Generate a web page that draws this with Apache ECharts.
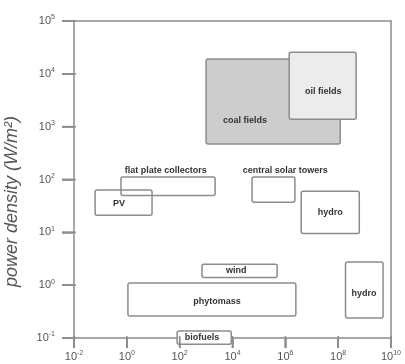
<!DOCTYPE html>
<html><head><meta charset="utf-8">
<script src="https://cdn.jsdelivr.net/npm/echarts@6/dist/echarts.min.js"></script>
<style>html,body{margin:0;padding:0;background:#fff}#c{width:405px;height:364px}</style>
</head><body><div id="c"></div>
<script>
// Data (power density ranges, log-log)
const names  = ['coal fields','oil fields','flat plate collectors','PV','central solar towers','hydro','hydro','wind','phytomass','biofuels'];
const xLow   = [1e3,   1.4e6, 0.6,  0.063, 5.5e4, 4e6,   1.9e8, 700,   1.1,   80];
const xHigh  = [1.2e8, 4.8e8, 2200, 9,     2.3e6, 6.3e8, 5e9,   4.9e5, 2.5e6, 9000];
const yLow   = [470,   1380,  50,   21,    37,    9.5,   0.24,  1.4,   0.26,  0.076];
const yHigh  = [19000, 25700, 112,  63,    112,   60,    2.75,  2.5,   1.1,   0.135];
const labelX = [3e4,   2.7e7, 30,   0.5,   1e6,   5e7,   9.6e8, 1.4e4, 2600,  700];
const labelY = [1330,  4700,  150,  35,    150,   24,    0.7,   1.9,   0.48,  0.1];
const xTickExp = [-2, 0, 2, 4, 6, 8, 10];
const yTickExp = [-1, 0, 1, 2, 3, 4, 5];

// styles
const fills = ['#cdcdcd','#ececec','rgba(0,0,0,0)','rgba(0,0,0,0)','rgba(0,0,0,0)','rgba(0,0,0,0)','rgba(0,0,0,0)','rgba(0,0,0,0)','rgba(0,0,0,0)','#ffffff'];
const lc = '#8c8c8c';
const font = 'Liberation Sans, Arial, sans-serif';

const L = Math.log10;
const boxData = names.map((n, i) => [L(xLow[i]), L(yLow[i]), L(xHigh[i]), L(yHigh[i]), L(labelX[i]), L(labelY[i]), i, 0]);
const xMin = xTickExp[0], xMax = xTickExp[xTickExp.length - 1];
const yMin = yTickExp[0], yMax = yTickExp[yTickExp.length - 1];
// tick items: kind 1 = x tick, 2 = y tick
const tickData = xTickExp.map(v => [v, yMin, 0, 0, 0, 0, 0, 1])
  .concat(yTickExp.map(v => [xMin, v, 0, 0, 0, 0, 0, 2]));

const rich = {
  b: {fontSize: 11, color: '#555', fontFamily: font, lineHeight: 14},
  s: {fontSize: 7, color: '#555', fontFamily: font, verticalAlign: 'top', lineHeight: 14}
};
const fmt = v => '{b|10}{s|' + v + '}';
const plainLine = {show: true, onZero: false, lineStyle: {color: lc, width: 1.5}};

const chart = echarts.init(document.getElementById('c'), null, {renderer: 'canvas'});
chart.setOption({
  animation: false,
  grid: {left: 74, right: 14, top: 21, bottom: 26, containLabel: false, outerBoundsMode: 'none'},
  xAxis: [{
    type: 'value', min: xMin, max: xMax, interval: 2, position: 'bottom',
    splitLine: {show: false},
    axisLine: plainLine,
    axisTick: {show: true, inside: false, length: 10, lineStyle: {color: lc, width: 1.5}},
    axisLabel: {show: true, formatter: fmt, rich: rich, margin: 12}
  }, {
    type: 'value', min: xMin, max: xMax, interval: 2, position: 'top',
    splitLine: {show: false}, axisLine: plainLine, axisTick: {show: false}, axisLabel: {show: false}
  }],
  yAxis: [{
    type: 'value', min: yMin, max: yMax, interval: 1, position: 'left',
    splitLine: {show: false},
    axisLine: plainLine,
    axisTick: {show: true, inside: false, length: 12, lineStyle: {color: lc, width: 1.5}},
    axisLabel: {show: true, formatter: fmt, rich: rich, margin: 19},
    name: 'power density (W/m²)', nameLocation: 'middle', nameRotate: 90, nameGap: 53,
    nameTextStyle: {fontSize: 18, fontStyle: 'italic', color: '#555', fontFamily: font, padding: [0, 44, 0, 0]}
  }, {
    type: 'value', min: yMin, max: yMax, interval: 1, position: 'right',
    splitLine: {show: false}, axisLine: plainLine, axisTick: {show: false}, axisLabel: {show: false}
  }],
  series: [{
    type: 'custom',
    clip: false,
    xAxisIndex: 0, yAxisIndex: 0,
    data: boxData.concat(tickData),
    z: 3,
    renderItem: function (params, api) {
      const kind = api.value(7);
      if (kind === 1 || kind === 2) {
        const p = api.coord([api.value(0), api.value(1)]);
        // overlap 2px into the plot so the mark's bounds touch the grid
        const shape = kind === 2 ? {x: p[0] - 12, y: p[1] - 0.75, width: 14, height: 1.5}
                                 : {x: p[0] - 0.75, y: p[1] - 2, width: 1.5, height: 12};
        return {type: 'rect', shape: shape, style: {fill: lc}};
      }
      const p1 = api.coord([api.value(0), api.value(3)]);
      const p2 = api.coord([api.value(2), api.value(1)]);
      const lp = api.coord([api.value(4), api.value(5)]);
      const i = api.value(6);
      return {
        type: 'group',
        children: [
          {type: 'rect', shape: {x: p1[0], y: p1[1], width: p2[0] - p1[0], height: p2[1] - p1[1], r: 2},
           style: {fill: fills[i], stroke: lc, lineWidth: 1.5}},
          {type: 'text', x: lp[0], y: lp[1],
           style: {text: names[i], align: 'center', verticalAlign: 'middle', fontSize: 9, fontWeight: 'bold',
                   fill: '#333', fontFamily: font}}
        ]
      };
    }
  }]
});

// extra safety: outward ticks as graphic elements positioned through the grid's scales
try {
  const els = [];
  xTickExp.forEach(v => {
    const p = chart.convertToPixel('grid', [v, yMin]);
    if (p && isFinite(p[0])) els.push({type: 'rect', z: 100, shape: {x: p[0] - 0.75, y: p[1], width: 1.5, height: 10}, style: {fill: lc}});
  });
  yTickExp.forEach(v => {
    const p = chart.convertToPixel('grid', [xMin, v]);
    if (p && isFinite(p[1])) els.push({type: 'rect', z: 100, shape: {x: p[0] - 12, y: p[1] - 0.75, width: 12, height: 1.5}, style: {fill: lc}});
  });
  if (els.length) chart.setOption({graphic: {elements: els}});
} catch (e) {}
</script>
</body></html>
